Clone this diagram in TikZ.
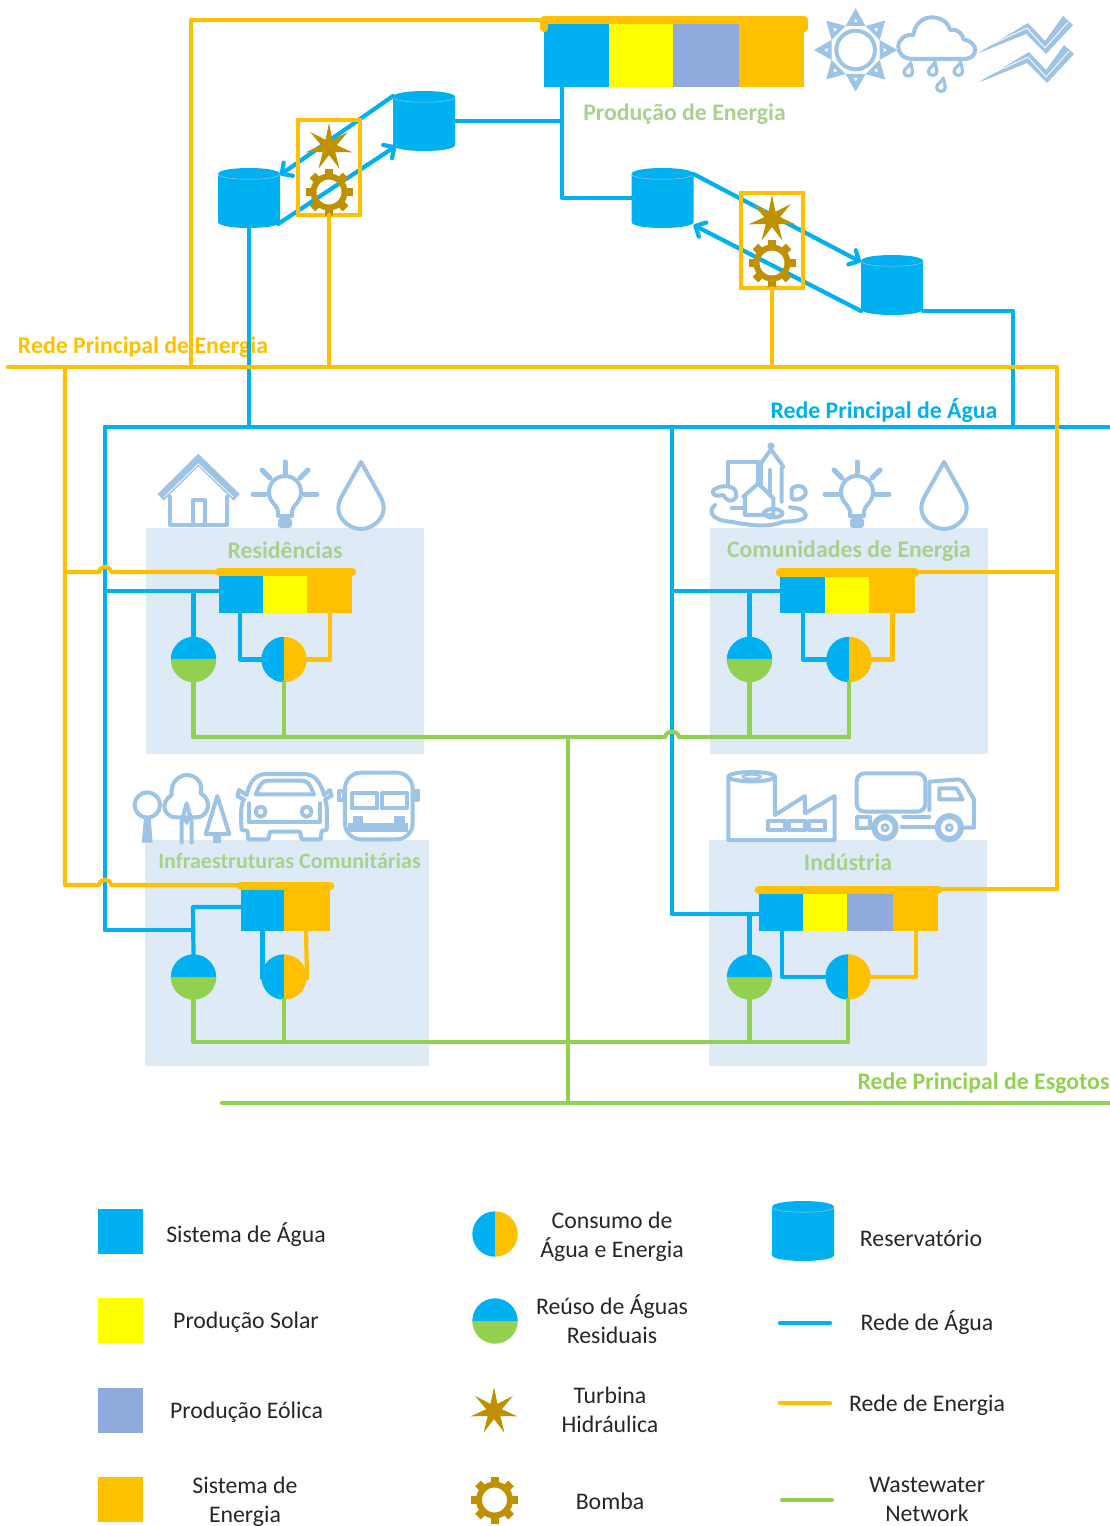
\documentclass[tikz,border=0pt]{standalone}
\usepackage{fontspec}
\setmainfont{Carlito}
\usetikzlibrary{arrows.meta,shapes.geometric}
\definecolor{wblue}{HTML}{00B0F0}
\definecolor{wyel}{HTML}{FFFF00}
\definecolor{weol}{HTML}{8FAADC}
\definecolor{eorg}{HTML}{FFC000}
\definecolor{wgrn}{HTML}{92D050}
\definecolor{brn}{HTML}{BF9000}
\definecolor{icn}{HTML}{9DC3E6}
\definecolor{blk}{HTML}{DEEBF7}
\definecolor{ttl}{HTML}{A9D18E}
\tikzset{
  cell/.style={rectangle,draw=none,inner sep=0,outer sep=0,anchor=north west},
  zone/.style={cell,fill=blk},
  wline/.style={draw=wblue,line width=4.2pt,line join=round,line cap=round},
  eline/.style={draw=eorg,line width=4.2pt,line join=round,line cap=round},
  gline/.style={draw=wgrn,line width=4.2pt,line join=round,line cap=round},
  ebar/.style={draw=eorg,line width=8.5pt,line join=round,line cap=round},
  arr/.style={-{Straight Barb[length=8pt,width=16pt,round]}},
  tbox/.style={rectangle,draw=eorg,line width=4pt,fill=none,inner sep=0,outer sep=0,minimum width=62pt,minimum height=95pt},
  turb/.style={star,star points=7,star point ratio=3,fill=brn,draw=none,minimum size=48pt,inner sep=0,outer sep=0},
  hub/.style={circle,minimum size=45.4pt,inner sep=0,outer sep=0},
  ttlb/.style={font=\fontsize{23.8}{26}\selectfont\bfseries,text=ttl,inner sep=0,anchor=center},
  netl/.style={font=\fontsize{23.8}{26}\selectfont\bfseries,inner sep=0,anchor=center},
  leg/.style={font=\fontsize{23.8}{29}\selectfont,text=black!85,inner sep=0,align=center,anchor=center},
  ic/.style={draw=icn,line width=4pt,line join=round,line cap=round},
  zoomat/.style={shift={(#1)},x=0.3333pt,y=-0.3333pt},
}
\newcommand{\consum}[3]{%
  \node[hub] (#1) at (#2,#3) {};
  \begin{scope}\clip (#2-23,#3-23) rectangle (#2,#3+23); \fill[wblue] (#2,#3) circle[radius=22.7]; \end{scope}
  \begin{scope}\clip (#2,#3-23) rectangle (#2+23,#3+23); \fill[eorg] (#2,#3) circle[radius=22.7]; \end{scope}
}
\newcommand{\reuse}[3]{%
  \node[hub] (#1) at (#2,#3) {};
  \begin{scope}\clip (#2-23,#3-23) rectangle (#2+23,#3); \fill[wblue] (#2,#3) circle[radius=22.7]; \end{scope}
  \begin{scope}\clip (#2-23,#3) rectangle (#2+23,#3+23); \fill[wgrn] (#2,#3) circle[radius=22.7]; \end{scope}
}
\newcommand{\tank}[3]{%
  \node[rectangle,inner sep=0,outer sep=0,minimum width=62pt,minimum height=60pt] (#1) at (#2,#3) {};
  \fill[wblue] (#2-31,#3-24) .. controls (#2-31,#3-32) and (#2+31,#3-32) .. (#2+31,#3-24)
     -- (#2+31,#3+24) .. controls (#2+31,#3+32) and (#2-31,#3+32) .. (#2-31,#3+24) -- cycle;
  \draw[icn,line width=.5pt] (#2-31,#3-24) .. controls (#2-31,#3-17) and (#2+31,#3-17) .. (#2+31,#3-24);
}
\newcommand{\gearat}[3]{%
  \node[circle,draw=brn,line width=6pt,fill=none,minimum size=31pt,inner sep=0,outer sep=0] (#1) at (#2,#3) {};
  \foreach \a in {0,45,...,315}
    \draw[brn,line width=8pt,line cap=butt,shift={(#2,#3)},rotate=\a] (16.5,0) -- (23.5,0);
}
\newcommand{\bulb}[2]{%
  \begin{scope}[shift={(#1,#2)}]
    \draw[ic,fill=white] (-7,24) -- (-7,19) .. controls (-8,13) and (-16,10) .. (-16,0) .. controls (-16,-9) and (-9,-16) .. (0,-16) .. controls (9,-16) and (16,-9) .. (16,0) .. controls (16,10) and (8,13) .. (7,19) -- (7,24) -- cycle;
    \fill[icn,rounded corners=3pt] (-7,26) rectangle (7,36);
    \draw[ic,line width=5pt] (0,-30) -- (0,-19);
    \draw[ic,line width=5pt] (-23,-22) -- (-15,-14);
    \draw[ic,line width=5pt] (23,-22) -- (15,-14);
    \draw[ic,line width=5pt] (-32,2) -- (-19,2);
    \draw[ic,line width=5pt] (32,2) -- (19,2);
  \end{scope}
}
\newcommand{\bigdrop}[2]{%
  \draw[ic,shift={(#1,#2)}] (0,-45) -- (19.2,-10.8) .. controls (30,8) and (13,22) .. (0,22) .. controls (-13,22) and (-30,8) .. (-19.2,-10.8) -- cycle;
}
\newcommand{\tinydrop}[2]{%
  \draw[ic,line width=3.2pt,shift={(#1,#2)}] (7,-24) .. controls (4,-12) and (-13,-8) .. (-13,5) .. controls (-13,20) and (13,20) .. (13,5) .. controls (13,-3) and (9,-12) .. cycle;
}
\newcommand{\windarrow}[2]{%
  \begin{scope}[shift={(#1,#2)}]
    \fill[icn] (0,0) -- (50,-30) -- (67,-12) -- (85,-37) -- (95,-28) -- (68,1) -- (48,-19) -- (6,-2) -- cycle;
    \draw[white,line width=.9pt,line join=round] (8,-6) -- (49,-25) -- (67,-5) -- (90,-31);
  \end{scope}
}
\begin{document}
\begin{tikzpicture}[x=1pt,y=-1pt]
\useasboundingbox (0,0) rectangle (1109,1526);

% ---- zones
\node[zone,minimum width=278pt,minimum height=226pt] (zres) at (146,527.5) {};
\node[zone,minimum width=278pt,minimum height=226pt] (zcom) at (710,527.5) {};
\node[zone,minimum width=284pt,minimum height=226pt] (zinf) at (145,840) {};
\node[zone,minimum width=278pt,minimum height=226pt] (zind) at (709,840) {};

% ---- zone titles
\node[ttlb] (tres) at (285,550) {Residências};
\node[ttlb] (tcom) at (849,551) {Comunidades de Energia};
\node[ttlb,font=\fontsize{22}{24}\selectfont\bfseries] (tinf) at (289.5,861) {Infraestruturas Comunitárias};
\node[ttlb] (tind) at (848,862) {Indústria};
\node[ttlb] (tpro) at (684.5,114) {Produção de Energia};

% ---- net labels
\node[netl,text=eorg] (lene) at (143,347) {Rede Principal de Energia};
\node[netl,text=wblue] (lagu) at (884,411) {Rede Principal de Água};
\node[netl,text=wgrn] (lesg) at (983.5,1083) {Rede Principal de Esgotos};

% ---- junction coordinates
\coordinate (eL) at (8,367);
\coordinate (eE) at (1057,367);
\coordinate (eW) at (65,367);
\coordinate (eT) at (191,367);
\coordinate (wR) at (1109,427);
\coordinate (wL) at (105,427);
\coordinate (wM) at (672,427);
\coordinate (gL) at (222,1103);
\coordinate (gR) at (1109,1103);
\coordinate (gM) at (568,1103);

% ---- top bank
\node[cell,fill=wblue,minimum width=65pt,minimum height=63pt] (tb) at (544,24) {};
\node[cell,fill=wyel,minimum width=64pt,minimum height=63pt] (ty) at (609,24) {};
\node[cell,fill=weol,minimum width=66pt,minimum height=63pt] (te) at (673,24) {};
\node[cell,fill=eorg,minimum width=65pt,minimum height=63pt] (to) at (739,24) {};

% ---- tanks
\tank{r1}{424}{121}
\tank{r2}{249}{198}
\tank{r3}{662.5}{198}
\tank{r4}{892}{285}

% ---- water main and tank links
\coordinate (j1) at (562,121);
\coordinate (j2) at (1013,311);
\draw[wline] (wL) -- (wR);
\draw[wline] ([xshift=-14.5pt]tb.south) -- (j1) |- (r3.west);
\draw[wline] (r1.east) -- (j1);
\draw[wline] (r2.south) -- (r2.south |- wR);
\draw[wline] ([yshift=4pt]r4.south east) -- (j2) -- (j2 |- wR);
\draw[wline,arr] ([yshift=-5pt]r1.north west) -- ([yshift=-7pt]r2.north east);
\draw[wline,arr] ([yshift=4pt,xshift=-2pt]r2.south east) -- ([yshift=5pt,xshift=3pt]r1.south west);
\draw[wline,arr] ([yshift=-6pt]r3.north east) -- ([yshift=-7pt]r4.north west);
\draw[wline,arr] ([yshift=4pt]r4.south west) -- ([yshift=3pt]r3.south east);

% ---- turbine boxes
\node[tbox] (bx1) at (329,167.5) {};
\node[tbox] (bx2) at (772,240.5) {};
\node[turb] (st1) at (329,147) {};
\node[turb] (st2) at (772,219) {};
\gearat{ge1}{329}{192}
\gearat{ge2}{772}{263}

% ---- energy main
\draw[eline] (eL) -- (eE) -- (1057,889);
\draw[eline] (tb.north west |- 0,20) -- (191,20) -- (eT);
\draw[eline] (bx1.south) -- (bx1.south |- eE);
\draw[eline] (bx2.south) -- (bx2.south |- eE);
\draw[ebar] ([yshift=-4pt]tb.north west) -- ([yshift=4pt]tb.north west) -- ([yshift=4pt]to.north east) -- ([yshift=-4pt]to.north east);

% ---- Residencias
\node[cell,fill=wblue,minimum width=44pt,minimum height=36.5pt] (rb) at (219,576) {};
\node[cell,fill=wyel,minimum width=44pt,minimum height=36.5pt] (ry) at (263,576) {};
\node[cell,fill=eorg,minimum width=45pt,minimum height=36.5pt] (ro) at (307,576) {};
\reuse{rr}{193.5}{659.5}
\consum{rc}{284}{659.5}
\coordinate (rw) at (105,591);
\coordinate (rg) at (193.5,737);
\draw[wline] (rw) -- (219,591);
\draw[wline] (193.5,591) -- (rr.north);
\draw[wline] ([xshift=-1pt]rb.south) |- (rc.west);
\draw[eline] ([xshift=.5pt]ro.south) |- (rc.east);
\draw[gline] (rr.south) -- (rg);
\draw[gline] (rc.south) -- (rc.south |- rg);

% ---- Comunidades
\node[cell,fill=wblue,minimum width=45pt,minimum height=36pt] (cb) at (780,576.5) {};
\node[cell,fill=wyel,minimum width=44pt,minimum height=36pt] (cy) at (825,576.5) {};
\node[cell,fill=eorg,minimum width=46pt,minimum height=36pt] (co) at (869,576.5) {};
\reuse{cr}{749.5}{659.5}
\consum{cc}{849}{659.5}
\coordinate (cw) at (672,591);
\coordinate (cg) at (849,737);
\draw[wline] (cw) -- (780,591);
\draw[wline] (749.5,591) -- (cr.north);
\draw[wline] ([xshift=.5pt]cb.south) |- (cc.west);
\draw[eline] ([xshift=.5pt]co.south) |- (cc.east);
\draw[gline] (cr.south) -- (cr.south |- cg);
\draw[gline] (cc.south) -- (cg);
\draw[eline] (co.north east |- 0,572) -- (1057,572);

% ---- Infraestruturas
\node[cell,fill=wblue,minimum width=43pt,minimum height=41pt] (ib) at (241,890) {};
\node[cell,fill=eorg,minimum width=46pt,minimum height=41pt] (io) at (284,890) {};
\reuse{ir}{193.5}{977}
\consum{ic1}{284}{977}
\coordinate (iw) at (105,930);
\coordinate (ig) at (193.5,1042);
\draw[wline] (iw) -- (193,930);
\draw[wline] (ib.west |- 0,907) -- (193,907) -- (ir.north);
\draw[wline] (262.5,931) -- (262.5,978);
\draw[eline] (306,931) -- (307,978);
\draw[gline] (ir.south) -- (ig);
\draw[gline] (ic1.south) -- (ic1.south |- ig);

% ---- Industria
\node[cell,fill=wblue,minimum width=44pt,minimum height=37pt] (nb) at (759,894) {};
\node[cell,fill=wyel,minimum width=44pt,minimum height=37pt] (ny) at (803,894) {};
\node[cell,fill=weol,minimum width=46pt,minimum height=37pt] (ne) at (847,894) {};
\node[cell,fill=eorg,minimum width=45pt,minimum height=37pt] (no) at (893,894) {};
\reuse{nr}{749.5}{977}
\consum{nc}{848}{977}
\coordinate (ng) at (848,1042);
\draw[wline] (wM) -- (672,914) -- (759,914);
\draw[wline] (749.5,914) -- (nr.north);
\draw[wline] (782,931) |- (nc.west);
\draw[eline] (916,931) |- (nc.east);
\draw[gline] (nr.south) -- (nr.south |- ng);
\draw[gline] (nc.south) -- (ng);
\draw[eline] (no.north east |- 0,889) -- (1057,889);

% ---- water west rising main and energy west feeder with hops
\draw[wline] (wL) -- (iw);
\draw[eline] (eW) -- (65,885) -- (99,885) .. controls (100,878) and (110,878) .. (111,885) -- (241,885);
\draw[eline] (65,572) -- (99,572) .. controls (100,565) and (110,565) .. (111,572) -- (219,572);

% ---- wastewater
\draw[gline] (rg) -- (665,737) .. controls (666,730) and (678,730) .. (679,737) -- (cg);
\draw[gline] (ig) -- (ng);
\draw[gline] (568,737) -- (gM);
\draw[gline] (gL) -- (gR);

% ---- bars
\draw[ebar] ([yshift=4pt]rb.north west) -- ([yshift=4pt]ro.north east);
\draw[ebar] ([yshift=4pt]cb.north west) -- ([yshift=4pt]co.north east);
\draw[ebar] ([yshift=4pt]ib.north west) -- ([yshift=4pt]io.north east);
\draw[ebar] ([yshift=4pt]nb.north west) -- ([yshift=4pt]no.north east);

% ---- sun
\begin{scope}[zoomat={620,0}]
  \foreach \a in {0,45,...,315}{
    \begin{scope}[shift={(707,150)},rotate=\a]
      \fill[icn] (125,0) -- (72,30) -- (72,-30) -- cycle;
      \fill[white] (94,0) -- (84,6) -- (84,-6) -- cycle;
    \end{scope}}
  \draw[ic,fill=white] (707,150) circle[radius=58];
  % cloud
  \draw[ic] (880,177) .. controls (845,177) and (835,155) .. (835,140) .. controls (835,118) and (855,102) .. (880,105) .. controls (885,70) and (910,52) .. (935,52) .. controls (960,52) and (985,65) .. (990,90) .. controls (1015,85) and (1030,105) .. (1030,118) .. controls (1055,122) and (1066,138) .. (1066,150) .. controls (1066,165) and (1050,177) .. (1035,177) -- cycle;
  \tinydrop{865}{212}
  \tinydrop{938}{210}
  \tinydrop{1015}{210}
  \tinydrop{963}{258}
\end{scope}
\windarrow{978}{53}
\windarrow{979}{82}

% ---- house
\begin{scope}[zoomat={90,440}]
  \draw[icn,line width=9pt] (212,172) -- (325,60) -- (440,172);
  \draw[white,line width=.8pt] (222,172) -- (325,72) -- (430,172);
  \draw[ic] (240,170) -- (240,255) -- (412,255) -- (412,170);
  \draw[ic] (310,255) -- (310,180) -- (345,180) -- (345,255);
\end{scope}
\bulb{285}{492}
\bigdrop{361}{507}

% ---- community
\begin{scope}[zoomat={660,430}]
  \fill[icn] (333,48) circle[radius=11];
  \draw[ic] (205,185) -- (205,95) -- (295,95) -- (295,165);
  \draw[ic] (303,170) -- (303,100) -- (333,58) -- (370,110) -- (365,115) -- (365,215);
  \draw[ic] (330,120) -- (330,195);
  \draw[ic] (250,200) -- (295,160) -- (340,205) -- (340,255) -- (255,255) -- (255,200);
  \draw[ic] (215,235) -- (255,235);
  \draw[ic,fill=white] (190,195) .. controls (155,205) and (150,180) .. (170,175) .. controls (180,165) and (230,165) .. (228,190) .. controls (235,210) and (205,225) .. (190,195) -- cycle;
  \draw[ic,fill=white] (395,185) .. controls (390,165) and (435,160) .. (437,185) .. controls (440,205) and (405,215) .. (395,205) -- cycle;
  \draw[ic] (165,225) .. controls (145,240) and (150,270) .. (210,275) .. controls (270,285) and (320,295) .. (370,275) .. controls (420,275) and (445,265) .. (435,250) .. controls (430,235) and (410,235) .. (390,232);
  \draw[ic] (310,250) .. controls (320,230) and (365,235) .. (368,250) .. controls (365,265) and (320,268) .. (310,250) -- cycle;
\end{scope}
\bulb{857}{492}
\bigdrop{944}{507}

% ---- trees, car, bus
\begin{scope}[zoomat={90,760}]
  \draw[ic] (172,135) circle[radius=38];
  \fill[icn] (162,175) -- (182,175) -- (188,248) -- (155,248) -- cycle;
  \draw[ic,fill=white] (262,172) .. controls (225,175) and (205,130) .. (245,105) .. controls (240,65) and (270,45) .. (290,45) .. controls (320,45) and (340,70) .. (332,100) .. controls (370,120) and (355,172) .. (320,172) -- cycle;
  \draw[ic] (275,248) -- (275,185) -- (290,130) -- (305,185) -- (305,248);
  \draw[ic,line width=3pt] (278,165) -- (290,190) -- (302,165);
  \draw[ic] (382,108) -- (347,222) -- (418,222) -- cycle;
  \fill[icn] (368,222) rectangle (392,248);
  % car
  \draw[ic] (470,105) .. controls (480,60) and (500,42) .. (530,42) -- (640,42) .. controls (670,42) and (690,60) .. (702,105) -- (720,90) -- (725,108) -- (705,118) .. controls (712,130) and (712,170) .. (710,210) -- (695,212) -- (692,238) -- (635,238) -- (630,215) -- (540,215) -- (535,238) -- (475,238) -- (472,212) -- (455,210) .. controls (452,170) and (452,130) .. (462,118) -- (442,108) -- (447,90) -- cycle;
  \draw[ic] (497,103) .. controls (510,75) and (515,62) .. (535,62) -- (635,62) .. controls (655,62) and (660,75) .. (672,103) -- cycle;
  \draw[ic] (512,155) circle[radius=15];
  \draw[ic] (650,155) circle[radius=15];
  \draw[ic] (477,130) -- (477,185) -- (690,185) -- (690,130);
  % bus
  \draw[ic,rounded corners=16pt] (765,38) rectangle (968,238);
  \draw[ic] (748,92) -- (762,92) -- (762,120) -- (748,120) -- cycle;
  \draw[ic] (972,92) -- (985,92) -- (985,120) -- (972,120) -- cycle;
  \draw[ic] (785,100) rectangle (862,145);
  \draw[ic] (875,100) rectangle (950,145);
  \fill[icn] (775,190) rectangle (955,217);
  \fill[icn] (788,167) rectangle (820,190);
  \fill[icn] (912,167) rectangle (945,190);
\end{scope}

% ---- factory, truck
\begin{scope}[zoomat={660,760}]
  \draw[ic] (205,50) -- (205,240) -- (524,240) -- (524,108) -- (435,160) -- (435,108) -- (345,165) -- (345,50);
  \draw[ic] (275,50) ellipse[x radius=70,y radius=14];
  \draw[ic,line width=2pt] (275,50) ellipse[x radius=28,y radius=6];
  \draw[ic] (325,182) rectangle (376,211);
  \draw[ic] (386,182) rectangle (436,211);
  \draw[ic] (448,182) rectangle (495,211);
  \draw[ic,rounded corners=8pt] (590,40) rectangle (796,155);
  \draw[ic] (590,172) -- (630,172) -- (630,205) -- (590,205) -- cycle;
  \draw[ic] (808,150) -- (808,65) -- (895,58) .. controls (905,58) and (910,65) .. (915,72) -- (942,118) -- (942,203) -- (908,203);
  \draw[ic] (725,200) -- (825,200) (730,170) -- (808,170);
  \draw[ic] (838,85) -- (890,85) -- (908,118) -- (838,118) -- cycle;
  \draw[ic,line width=6pt,fill=white] (675,203) circle[radius=32];
  \draw[ic,line width=3pt] (675,203) circle[radius=9];
  \draw[ic,line width=6pt,fill=white] (868,203) circle[radius=35];
  \draw[ic,line width=3pt] (868,203) circle[radius=9];
\end{scope}

% ---- legend
\node[cell,fill=wblue,minimum size=45pt] (lg1) at (98,1209) {};
\node[cell,fill=wyel,minimum size=45pt] (lg2) at (98,1298) {};
\node[cell,fill=weol,minimum size=45pt] (lg3) at (98,1388) {};
\node[cell,fill=eorg,minimum size=45pt] (lg4) at (98,1477) {};
\node[leg] (lt1) at (246,1235) {Sistema de Água};
\node[leg] (lt2) at (246,1322) {Produção Solar};
\node[leg] (lt3) at (246.5,1412) {Produção Eólica};
\node[leg] (lt4) at (245,1501.5) {Sistema de\\Energia};
\consum{lc1}{495}{1234}
\reuse{lc2}{495}{1321}
\node[turb] (lc3) at (494,1411) {};
\gearat{lc4}{494.5}{1500}
\node[leg] (lt5) at (612,1236.5) {Consumo de\\Água e Energia};
\node[leg] (lt6) at (612,1319.5) {Reúso de Águas\\Residuais};
\node[leg] (lt7) at (610,1409.5) {Turbina\\Hidráulica};
\node[leg] (lt8) at (610,1501) {Bomba};
\tank{lc5}{803}{1231}
\node[leg] (lt9) at (921,1238) {Reservatório};
\node[leg] (lt10) at (927,1323) {Rede de Água};
\node[leg] (lt11) at (927,1405) {Rede de Energia};
\node[leg] (lt12) at (927,1499) {Wastewater\\Network};
\coordinate (a1) at (780,1323); \coordinate (a2) at (830,1323);
\coordinate (b1) at (780,1403); \coordinate (b2) at (830,1403);
\coordinate (c1) at (782,1500); \coordinate (c2) at (832,1500);
\draw[wline] (a1) -- (a2);
\draw[eline] (b1) -- (b2);
\draw[gline] (c1) -- (c2);
\end{tikzpicture}
\end{document}
